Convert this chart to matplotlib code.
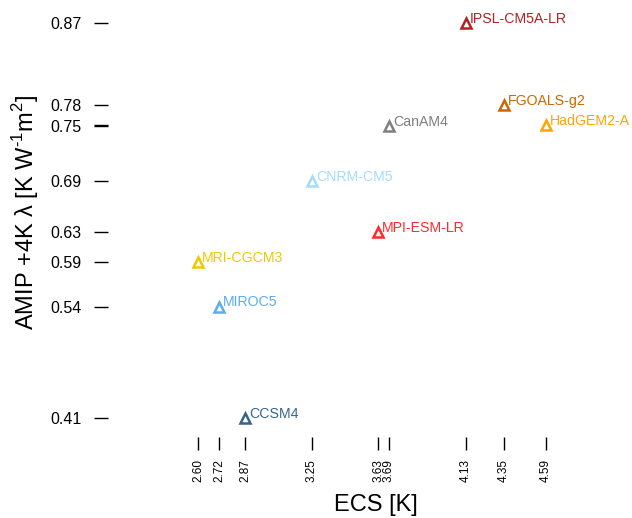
import numpy as np
import matplotlib
matplotlib.use("Agg")
import matplotlib.pyplot as plt

plt.rcParams['font.family'] = ['Liberation Sans', 'DejaVu Sans']
plt.rcParams['mathtext.fontset'] = 'custom'
plt.rcParams['mathtext.rm'] = 'Liberation Sans'

models = ["IPSL-CM5A-LR", "FGOALS-g2", "HadGEM2-A", "CanAM4", "CNRM-CM5",
          "MPI-ESM-LR", "MRI-CGCM3", "MIROC5", "CCSM4"]
ecs = [4.13, 4.35, 4.59, 3.69, 3.25, 3.63, 2.60, 2.72, 2.87]
lam = [0.874, 0.777, 0.753, 0.752, 0.687, 0.626, 0.591, 0.538, 0.406]
colors = ["#B22222", "#CD6600", "#FFA500", "#7F7F7F", "#A4DCFA",
          "#FF2A2A", "#EEC900", "#5CACEE", "#36648B"]

fig = plt.figure(figsize=(6.32, 5.18), dpi=100)
ax = fig.add_axes([108 / 632, 1 - 437 / 518, 492 / 632, 432 / 518])

for x, y, c, name in zip(ecs, lam, colors, models):
    ax.plot(x, y, marker='^', ms=6.5, mfc='none', mec=c, mew=1.8, ls='none')
    ax.annotate(name, (x, y), xytext=(3, 3), textcoords='offset points',
                color=c, fontsize=10.2, ha='left', va='center')

ax.set_xlim(2.60 - 90 / 174.9, 2.60 + 402 / 174.9)
ax.set_ylim(0.874 - 414 / 844, 0.874 + 18 / 844)

for s in ax.spines.values():
    s.set_visible(False)

xt = sorted(ecs)
ax.set_xticks(xt)
ax.set_xticklabels(["%.2f" % v for v in xt], rotation=90, fontsize=8.5)
yt = sorted(lam)
ax.set_yticks(yt)
ylabs = ["%.2f" % v for v in yt]
ylabs[yt.index(0.753)] = ""
ax.set_yticklabels(ylabs, fontsize=11.5)

ax.tick_params(axis='x', direction='out', length=9, width=1, pad=7)
ax.tick_params(axis='y', direction='out', length=10, width=1, pad=9)

ax.set_xlabel("ECS [K]", fontsize=17)
ax.xaxis.set_label_coords((376 - 108) / 492, -(505 - 437) / 432)
ax.set_ylabel(r"AMIP +4K λ [K W$^{\text{-1}}$m$^{\mathregular{2}}$]", fontsize=17)
ax.yaxis.set_label_coords(-(108 - 26) / 492, (437 - 212) / 432)
ax.yaxis.label.set_va('center')
ax.xaxis.label.set_va('center')

fig.savefig("out.png", dpi=100)
